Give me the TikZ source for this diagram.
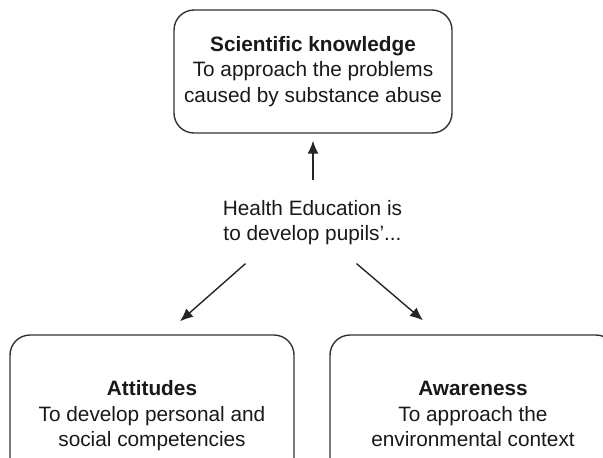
\documentclass[tikz,border=0pt]{standalone}
\usepackage{fontspec}
\setmainfont{Liberation Sans}
\usepackage{tikz}
\usetikzlibrary{arrows.meta}

\tikzset{
  box/.style={draw=black!80, line width=0.7pt, rounded corners=10pt, align=center, text=black!90},
  txt/.style={align=center, text=black!90},
  arr/.style={draw=black!85, line width=0.7pt, -{Latex[length=6.5pt,width=5.5pt]}}
}

\begin{document}
\begin{tikzpicture}[x=0.5pt,y=-0.5pt, font=\fontsize{10.4}{12.75}\selectfont]
\useasboundingbox (0,0) rectangle (603,457);
\clip (0,0) rectangle (603,457);
\node[box, minimum width=139pt, minimum height=61.5pt] (knowledge) at (313,71.5)
  {\strut\textbf{Scientific knowledge}\\To approach the problems\\\strut caused by substance abuse}; % top
\node[txt] (health) at (312.5,223) {\strut Health Education is\\\strut to develop pupils'...};
\node[box, minimum width=142pt, minimum height=81pt] (attitudes) at (152,416)
  {\strut\textbf{Attitudes}\\To develop personal and\\\strut social competencies};
\node[box, minimum width=143pt, minimum height=81pt] (awareness) at (473,416)
  {\strut\textbf{Awareness}\\To approach the\\\strut environmental context};
\draw[arr] ([yshift=5pt]knowledge.south |- health.north) -- ([yshift=-3.5pt]knowledge.south);
\draw[arr] ([xshift=-33.5pt,yshift=-4pt]health.south) -- ([xshift=14pt,yshift=6.5pt]attitudes.north);
\draw[arr] ([xshift=22pt,yshift=-4pt]health.south) -- ([xshift=-25pt,yshift=7pt]awareness.north);
\end{tikzpicture}
\end{document}
